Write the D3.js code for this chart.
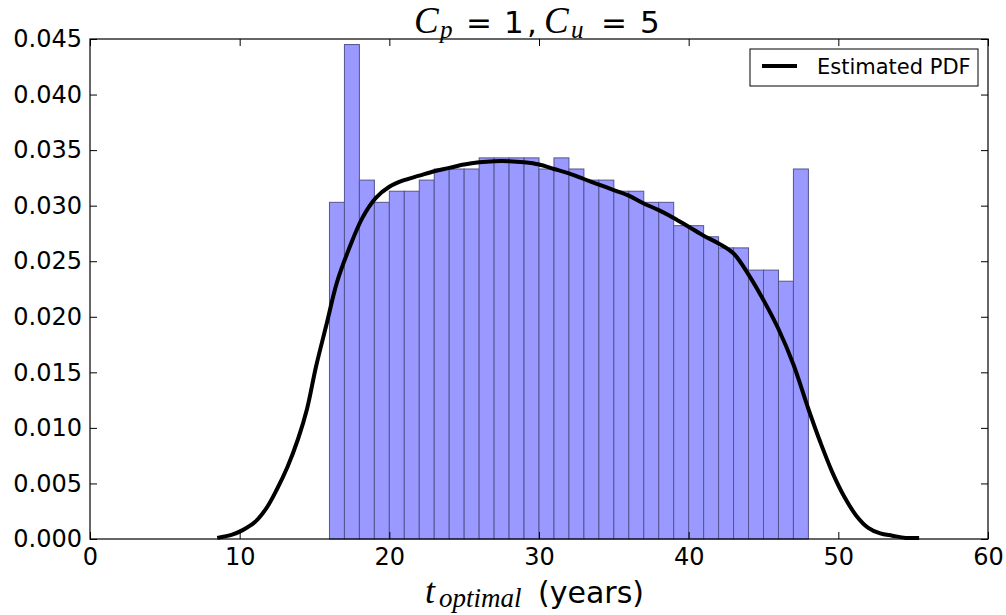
<!DOCTYPE html>
<html>
<head>
<meta charset="utf-8">
<script src="https://cdn.jsdelivr.net/npm/d3@7/dist/d3.min.js"></script>
<style>
  html, body { margin: 0; padding: 0; background: #ffffff; }
  svg { display: block; }
  text { font-family: "DejaVu Sans", sans-serif; fill: #000; }
  .math { font-family: "Liberation Serif", serif; font-style: italic; }
</style>
</head>
<body>
<div id="chart"></div>
<script>
// Histogram of optimal replacement times (bin lower edges, width 1 year)
const binStarts = [16, 17, 18, 19, 20, 21, 22, 23, 24, 25, 26, 27, 28, 29, 30, 31,
                   32, 33, 34, 35, 36, 37, 38, 39, 40, 41, 42, 43, 44, 45, 46, 47];
const binDensity = [0.0303, 0.0445, 0.0323, 0.0303, 0.0313, 0.0313, 0.0323, 0.0333,
                    0.0333, 0.0333, 0.0343, 0.0343, 0.0343, 0.0343, 0.0333, 0.0343,
                    0.0333, 0.0323, 0.0323, 0.0313, 0.0313, 0.0303, 0.0303, 0.0282,
                    0.0282, 0.0272, 0.0262, 0.0262, 0.0242, 0.0242, 0.0232, 0.0333];
const binWidth = 1;

// Kernel density estimate
const pdfT = [8.5, 9.5, 10.2, 11.0, 11.8, 12.5, 13.2, 13.9, 14.5, 15.1, 15.8, 16.5,
              17.3, 18.2, 19.1, 20.0, 21.0, 22.0, 23.0, 24.0, 25.0, 26.0, 27.0, 28.0,
              29.0, 30.0, 31.0, 32.0, 33.0, 34.0, 35.0, 36.0, 37.0, 38.0, 39.0, 40.0,
              41.0, 42.0, 43.0, 44.0, 45.0, 46.0, 47.0, 48.0, 48.8, 49.6, 50.4, 51.2,
              52.0, 52.8, 53.6, 54.5, 55.4];
const pdfValues = [0.0001, 0.0004, 0.0008, 0.0015, 0.0028, 0.0045, 0.0065, 0.0090,
                   0.0117, 0.0155, 0.0193, 0.0231, 0.0261, 0.0289, 0.0307, 0.0317,
                   0.0323, 0.0327, 0.0331, 0.0334, 0.0337, 0.0339, 0.0340, 0.0340,
                   0.0339, 0.0337, 0.0333, 0.0329, 0.0324, 0.0319, 0.0314, 0.0309,
                   0.0302, 0.0296, 0.0289, 0.0281, 0.0273, 0.0266, 0.0257, 0.0238,
                   0.0215, 0.0189, 0.0157, 0.0117, 0.0087, 0.0060, 0.0038, 0.0021,
                   0.0010, 0.0005, 0.0003, 0.0001, 0.0001];

const xTicks = [0, 10, 20, 30, 40, 50, 60];
const yTicks = [0, 0.005, 0.010, 0.015, 0.020, 0.025, 0.030, 0.035, 0.040, 0.045];
const legendLabel = "Estimated PDF";

const W = 1006, H = 615;
const margin = { left: 90, right: 18, top: 39, bottom: 76 };
const iw = W - margin.left - margin.right;
const ih = H - margin.top - margin.bottom;

const svg = d3.select("#chart").append("svg")
  .attr("width", W).attr("height", H);

const g = svg.append("g").attr("transform", `translate(${margin.left},${margin.top})`);

const x = d3.scaleLinear().domain([0, 60]).range([0, iw]);
const y = d3.scaleLinear().domain([0, 0.045]).range([ih, 0]);

// Bars
const bins = binStarts.map((s, i) => ({ x0: s, x1: s + binWidth, v: binDensity[i] }));
g.append("g").selectAll("rect").data(bins).join("rect")
  .attr("x", d => x(d.x0))
  .attr("y", d => y(d.v))
  .attr("width", d => x(d.x1) - x(d.x0))
  .attr("height", d => y(0) - y(d.v))
  .attr("fill", "#9999ff")
  .attr("stroke", "#545490")
  .attr("stroke-width", 1);

// Density curve
const line = d3.line()
  .x((d, i) => x(pdfT[i]))
  .y(d => y(d))
  .curve(d3.curveCatmullRom.alpha(0.5));
g.append("path")
  .datum(pdfValues)
  .attr("d", line)
  .attr("fill", "none")
  .attr("stroke", "#000")
  .attr("stroke-width", 4)
  .attr("stroke-linejoin", "round");

// Axes with inward ticks
const styleAxis = sel => {
  sel.select(".domain").remove();
  sel.selectAll(".tick line").attr("stroke", "#000");
  sel.selectAll(".tick text").style("font-family", "DejaVu Sans").style("font-size", "24px").attr("fill", "#000");
};

g.append("g")
  .attr("transform", `translate(0,${ih})`)
  .call(d3.axisBottom(x).tickValues(xTicks).tickSize(-7).tickPadding(9).tickFormat(d3.format("d")))
  .call(styleAxis);

g.append("g")
  .call(d3.axisTop(x).tickValues(xTicks).tickSize(-7).tickFormat(""))
  .call(styleAxis);

g.append("g")
  .call(d3.axisLeft(y).tickValues(yTicks).tickSize(-7).tickPadding(8).tickFormat(d3.format(".3f")))
  .call(styleAxis);

g.append("g")
  .attr("transform", `translate(${iw},0)`)
  .call(d3.axisRight(y).tickValues(yTicks).tickSize(-7).tickFormat(""))
  .call(styleAxis);

// Frame
g.append("rect")
  .attr("x", 0).attr("y", 0).attr("width", iw).attr("height", ih)
  .attr("fill", "none").attr("stroke", "#000").attr("stroke-width", 1.2);

// Legend
const lg = g.append("g").attr("transform", `translate(${iw - 238},${10})`);
lg.append("rect")
  .attr("width", 228).attr("height", 37)
  .attr("fill", "#fff").attr("stroke", "#000").attr("stroke-width", 1);
lg.append("line")
  .attr("x1", 12).attr("x2", 47).attr("y1", 17).attr("y2", 17)
  .attr("stroke", "#000").attr("stroke-width", 4);
lg.append("text")
  .attr("x", 67).attr("y", 25)
  .style("font-size", "21px")
  .text(legendLabel);

// One text element made of positioned runs: italic serif for symbols, sans for the rest
function mathText(parent, runs) {
  const t = parent.append("text");
  runs.forEach(r => {
    t.append("tspan")
      .attr("x", r.x).attr("y", r.y)
      .attr("class", r.math ? "math" : null)
      .style("font-size", r.size + "px")
      .text(r.s);
  });
  return t;
}

// Title: C_p = 1, C_u = 5
mathText(svg, [
  { s: "C", x: 414, y: 33, size: 37, math: true },
  { s: "p", x: 440, y: 38, size: 25, math: true },
  { s: "=", x: 466, y: 33, size: 31 },
  { s: "1", x: 504, y: 33, size: 31 },
  { s: ",", x: 527, y: 33, size: 31 },
  { s: "C", x: 544, y: 33, size: 37, math: true },
  { s: "u", x: 571, y: 38, size: 25, math: true },
  { s: "=", x: 601, y: 33, size: 31 },
  { s: "5", x: 640, y: 33, size: 31 }
]);

// X-axis label: t_optimal (years)
mathText(svg, [
  { s: "t", x: 425, y: 603, size: 36, math: true },
  { s: "optimal", x: 439, y: 607, size: 27, math: true },
  { s: "(years)", x: 538, y: 603, size: 30 }
]);
</script>
</body>
</html>
